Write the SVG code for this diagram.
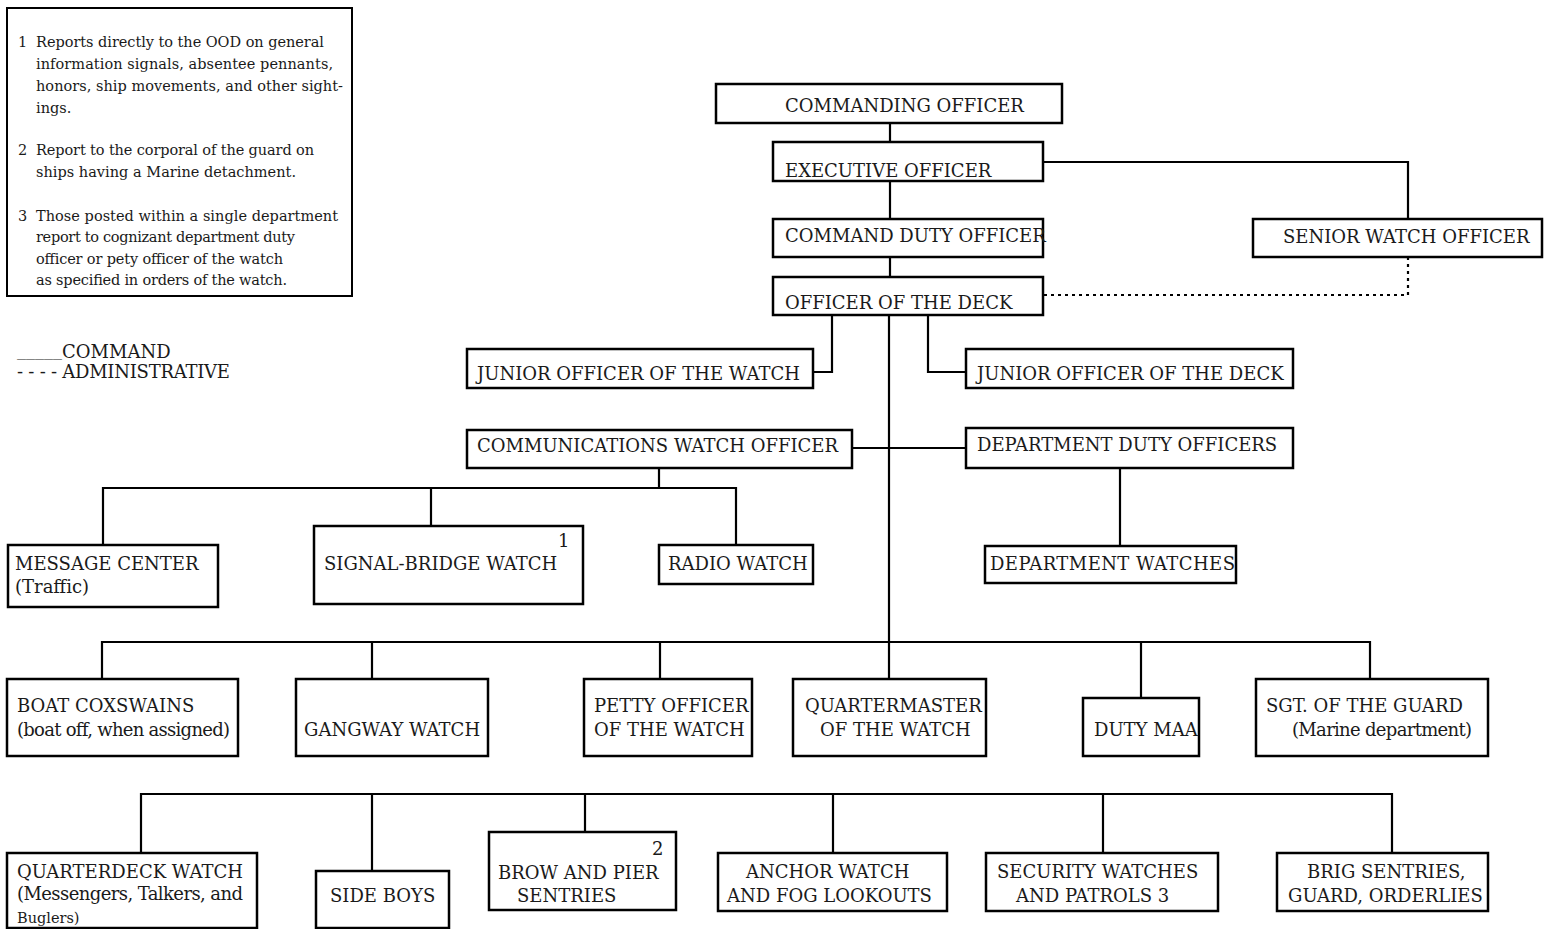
<svg xmlns="http://www.w3.org/2000/svg" width="1551" height="929" viewBox="0 0 1551 929">
<style>
.box{fill:#fff;stroke:#000;stroke-width:2.5}
.t{font-family:"DejaVu Serif","Liberation Serif",serif;font-size:18px;fill:#1a1a1a}
.lg{font-size:14.5px}
.sm{font-size:14.5px}
.c{stroke:#000;stroke-width:2.2;fill:none}
.d{stroke-dasharray:3 4}
</style>
<rect width="1551" height="929" fill="#fff"/>
<g id="legend">
<rect x="7" y="8" width="345" height="288" fill="#fff" stroke="#000" stroke-width="2"/>
<g class="t lg">
<text x="18" y="47">1</text>
<text x="36" y="47" textLength="288">Reports directly to the OOD on general</text>
<text x="36" y="69" textLength="297">information signals, absentee pennants,</text>
<text x="36" y="91" textLength="307">honors, ship movements, and other sight-</text>
<text x="36" y="113">ings.</text>
<text x="18" y="155">2</text>
<text x="36" y="155" textLength="278">Report to the corporal of the guard on</text>
<text x="36" y="177" textLength="260">ships having a Marine detachment.</text>
<text x="18" y="221">3</text>
<text x="36" y="221" textLength="302">Those posted within a single department</text>
<text x="36" y="242" textLength="259">report to cognizant department duty</text>
<text x="36" y="264" textLength="247">officer or pety officer of the watch</text>
<text x="36" y="285" textLength="251">as specified in orders of the watch.</text>
</g>
<text class="t" x="17" y="358"><tspan dy="-3">_____</tspan><tspan dy="3">COMMAND</tspan></text>
<text class="t" x="17" y="378" textLength="213">- - - - ADMINISTRATIVE</text>
</g>
<g id="connectors">
<path class="c" d="M890,123V142M890,181V219M890,257V277"/>
<path class="c" d="M1043,162H1408V219"/>
<path class="c d" d="M1408,257V295H1043"/>
<path class="c" d="M889,315V679"/>
<path class="c" d="M832,315V372H813"/>
<path class="c" d="M928,315V372H966"/>
<path class="c" d="M852,448H966"/>
<path class="c" d="M659,468V488M103,545V488H736V545M431,488V526"/>
<path class="c" d="M1120,468V546"/>
<path class="c" d="M102,679V642H1370V679M372,642V679M660,642V679M1141,642V698"/>
<path class="c" d="M141,853V794H1392V853M372,794V871M585,794V832M833,794V853M1103,794V853"/>
</g>
<g id="commanding-officer"><rect class="box" x="716" y="84" width="346" height="39"/><text class="t" x="785" y="112">COMMANDING OFFICER</text></g>
<g id="executive-officer"><rect class="box" x="773" y="142" width="270" height="39"/><text class="t" x="785" y="177">EXECUTIVE OFFICER</text></g>
<g id="command-duty-officer"><rect class="box" x="773" y="219" width="270" height="38"/><text class="t" x="785" y="242">COMMAND DUTY OFFICER</text></g>
<g id="officer-of-the-deck"><rect class="box" x="773" y="277" width="270" height="38"/><text class="t" x="785" y="309">OFFICER OF THE DECK</text></g>
<g id="senior-watch-officer"><rect class="box" x="1253" y="219" width="289" height="38"/><text class="t" x="1283" y="243">SENIOR WATCH OFFICER</text></g>
<g id="jr-officer-watch"><rect class="box" x="467" y="349" width="346" height="39"/><text class="t" x="477" y="380">JUNIOR OFFICER OF THE WATCH</text></g>
<g id="jr-officer-deck"><rect class="box" x="966" y="349" width="327" height="39"/><text class="t" x="977" y="380">JUNIOR OFFICER OF THE DECK</text></g>
<g id="comm-watch-officer"><rect class="box" x="467" y="430" width="385" height="38"/><text class="t" x="477" y="452">COMMUNICATIONS WATCH OFFICER</text></g>
<g id="dept-duty-officers"><rect class="box" x="966" y="428" width="327" height="40"/><text class="t" x="977" y="451">DEPARTMENT DUTY OFFICERS</text></g>
<g id="message-center"><rect class="box" x="8" y="545" width="210" height="62"/><text class="t" x="15" y="570">MESSAGE CENTER</text><text class="t" x="15" y="593">(Traffic)</text></g>
<g id="signal-bridge"><rect class="box" x="314" y="526" width="269" height="78"/><text class="t" x="558" y="547">1</text><text class="t" x="324" y="570">SIGNAL-BRIDGE WATCH</text></g>
<g id="radio-watch"><rect class="box" x="659" y="545" width="154" height="39"/><text class="t" x="668" y="570">RADIO WATCH</text></g>
<g id="dept-watches"><rect class="box" x="985" y="546" width="251" height="37"/><text class="t" x="990" y="570" textLength="245">DEPARTMENT WATCHES</text></g>
<g id="boat-coxswains"><rect class="box" x="7" y="679" width="231" height="77"/><text class="t" x="17" y="712">BOAT COXSWAINS</text><text class="t" x="17" y="736" textLength="213">(boat off, when assigned)</text></g>
<g id="gangway-watch"><rect class="box" x="296" y="679" width="192" height="77"/><text class="t" x="304" y="736">GANGWAY WATCH</text></g>
<g id="petty-officer"><rect class="box" x="584" y="679" width="168" height="77"/><text class="t" x="594" y="712">PETTY OFFICER</text><text class="t" x="594" y="736">OF THE WATCH</text></g>
<g id="quartermaster"><rect class="box" x="793" y="679" width="193" height="77"/><text class="t" x="805" y="712">QUARTERMASTER</text><text class="t" x="820" y="736">OF THE WATCH</text></g>
<g id="duty-maa"><rect class="box" x="1083" y="698" width="116" height="58"/><text class="t" x="1094" y="736">DUTY MAA</text></g>
<g id="sgt-guard"><rect class="box" x="1256" y="679" width="232" height="77"/><text class="t" x="1266" y="712">SGT. OF THE GUARD</text><text class="t" x="1292" y="736" textLength="180">(Marine department)</text></g>
<g id="quarterdeck-watch"><rect class="box" x="7" y="853" width="250" height="75"/><text class="t" x="17" y="878">QUARTERDECK WATCH</text><text class="t" x="17" y="900" textLength="226">(Messengers, Talkers, and</text><text class="t sm" x="17" y="923">Buglers)</text></g>
<g id="side-boys"><rect class="box" x="316" y="871" width="133" height="57"/><text class="t" x="330" y="902">SIDE BOYS</text></g>
<g id="brow-pier"><rect class="box" x="489" y="832" width="187" height="78"/><text class="t" x="652" y="855">2</text><text class="t" x="498" y="879">BROW AND PIER</text><text class="t" x="517" y="902">SENTRIES</text></g>
<g id="anchor-watch"><rect class="box" x="718" y="853" width="229" height="58"/><text class="t" x="746" y="878">ANCHOR WATCH</text><text class="t" x="727" y="902">AND FOG LOOKOUTS</text></g>
<g id="security-watches"><rect class="box" x="986" y="853" width="232" height="58"/><text class="t" x="997" y="878">SECURITY WATCHES</text><text class="t" x="1016" y="902">AND PATROLS 3</text></g>
<g id="brig-sentries"><rect class="box" x="1277" y="853" width="211" height="58"/><text class="t" x="1307" y="878">BRIG SENTRIES,</text><text class="t" x="1288" y="902">GUARD, ORDERLIES</text></g>
</svg>
